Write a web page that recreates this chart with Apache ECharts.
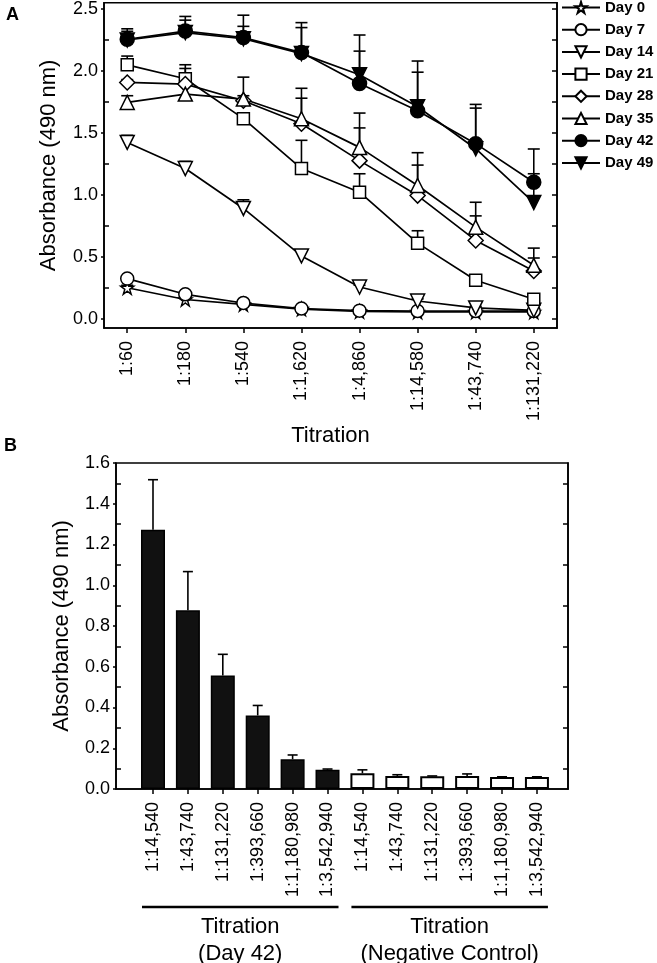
<!DOCTYPE html>
<html><head><meta charset="utf-8">
<script src="https://cdn.jsdelivr.net/npm/echarts@6/dist/echarts.min.js"></script>
<style>html,body{margin:0;padding:0;background:#fff}#c{width:657px;height:963px}</style>
</head><body><div id="c"></div>
<script>
// ---------- DATA ----------
const catsA = ['1:60','1:180','1:540','1:1,620','1:4,860','1:14,580','1:43,740','1:131,220'];
const dayNames = ['Day 0','Day 7','Day 14','Day 21','Day 28','Day 35','Day 42','Day 49'];
const day0  = [0.250,0.155,0.115,0.078,0.058,0.055,0.055,0.055];
const day7  = [0.324,0.197,0.127,0.082,0.065,0.062,0.062,0.062];
const day14 = [1.423,1.212,0.890,0.507,0.256,0.143,0.087,0.068];
const day21 = [2.049,1.937,1.615,1.212,1.021,0.610,0.310,0.157];
const day28 = [1.907,1.894,1.759,1.574,1.276,0.994,0.632,0.385];
const day35 = [1.746,1.813,1.773,1.614,1.383,1.075,0.739,0.431];
const day42 = [2.256,2.322,2.269,2.148,1.898,1.679,1.413,1.101];
const day49 = [2.250,2.310,2.260,2.140,1.969,1.711,1.372,0.938];
// top of the (upper) error bars
const day0Top  = [0.270,0.170,0.125,0.085,0.062,0.058,0.058,0.058];
const day7Top  = [0.340,0.205,0.135,0.088,0.068,0.065,0.065,0.065];
const day14Top = [1.48,1.27,0.96,0.55,0.27,0.16,0.10,0.08];
const day21Top = [2.12,2.05,1.65,1.44,1.17,0.71,0.34,0.17];
const day28Top = [1.93,1.95,1.80,1.78,1.54,1.24,0.83,0.49];
const day35Top = [1.80,2.02,1.95,1.86,1.66,1.34,0.94,0.57];
const day42Top = [2.34,2.44,2.36,2.35,2.16,1.99,1.70,1.37];
const day49Top = [2.32,2.41,2.45,2.39,2.29,2.08,1.73,1.17];
const ticksA = [0,0.5,1.0,1.5,2.0,2.5];

const catsB = ['1:14,540','1:43,740','1:131,220','1:393,660','1:1,180,980','1:3,542,940',
               '1:14,540','1:43,740','1:131,220','1:393,660','1:1,180,980','1:3,542,940'];
const barsDay42 = [1.272,0.877,0.557,0.361,0.146,0.094];
const barsNeg   = [0.077,0.064,0.062,0.064,0.059,0.059];
const errDay42  = [1.518,1.067,0.661,0.410,0.167,0.098];
const errNeg    = [0.094,0.070,0.064,0.074,0.060,0.060];
const ticksB = [0,0.2,0.4,0.6,0.8,1.0,1.2,1.4,1.6];
const groupLabels = ['Titration\n(Day 42)','Titration\n(Negative Control)'];

// ---------- FONTS ----------
function hasFont(f){
  const c=document.createElement('canvas').getContext('2d');
  const s='Absorbance 1234567890';
  c.font='40px monospace'; const a=c.measureText(s).width;
  c.font="40px '"+f+"', monospace"; const b=c.measureText(s).width;
  return a!==b;
}
const NARROW = hasFont('Liberation Sans Narrow');
const FF = NARROW ? "'Liberation Sans Narrow', 'Liberation Sans', Arial, sans-serif" : "'Liberation Sans', Arial, sans-serif";
const TICK = NARROW ? 21 : 18;
const TITLE = NARROW ? 26 : 22;

// ---------- SERIES ----------
const starPath = 'path://M50,0 L61,35 L98,35 L68,57 L79,91 L50,70 L21,91 L32,57 L2,35 L39,35 Z';
const means = [day0,day7,day14,day21,day28,day35,day42,day49];
const tops  = [day0Top,day7Top,day14Top,day21Top,day28Top,day35Top,day42Top,day49Top];
const symbols = [
  {symbol:starPath,size:13,rot:0,fill:'#fff'},
  {symbol:'circle',size:13,rot:0,fill:'#fff'},
  {symbol:'triangle',size:14,rot:180,fill:'#fff'},
  {symbol:'rect',size:12,rot:0,fill:'#fff'},
  {symbol:'diamond',size:15,rot:0,fill:'#fff'},
  {symbol:'triangle',size:14,rot:0,fill:'#fff'},
  {symbol:'circle',size:14,rot:0,fill:'#000'},
  {symbol:'triangle',size:14,rot:180,fill:'#000'}
];

function errRender(capHalf){
  return function(params, api){
    const x=api.value(0), m=api.value(1), t=api.value(2);
    const p0=api.coord([x,m]), p1=api.coord([x,t]);
    const st={stroke:'#000',lineWidth:1.6};
    return {type:'group',children:[
      {type:'line',shape:{x1:p0[0],y1:p0[1],x2:p1[0],y2:p1[1]},style:st},
      {type:'line',shape:{x1:p1[0]-capHalf,y1:p1[1],x2:p1[0]+capHalf,y2:p1[1]},style:st}
    ]};
  };
}

const series = [];
means.forEach((arr,k)=>{
  series.push({
    type:'custom', xAxisIndex:0, yAxisIndex:0, z:1, silent:true,
    renderItem: errRender(6),
    data: arr.map((v,i)=>[i,v,tops[k][i]])
  });
});
means.forEach((arr,k)=>{
  const s=symbols[k];
  series.push({
    name: dayNames[k], type:'line', xAxisIndex:0, yAxisIndex:0, z:3,
    data: arr.map((v,i)=>[i,v]),
    symbol:s.symbol, symbolSize:s.size, symbolRotate:s.rot,
    showAllSymbol:true,
    lineStyle:{color:'#000',width:1.7},
    itemStyle:{color:s.fill,borderColor:'#000',borderWidth:1.5,opacity:1},
    emphasis:{disabled:true}, animation:false
  });
});
// panel B bars
const barData = barsDay42.map((v,i)=>({value:[i,v],itemStyle:{color:'#111',borderColor:'#000',borderWidth:1.5}}))
  .concat(barsNeg.map((v,i)=>({value:[i+barsDay42.length,v],itemStyle:{color:'#fff',borderColor:'#000',borderWidth:2}})));
series.push({type:'bar', xAxisIndex:1, yAxisIndex:3, data:barData, barWidth:24, z:2, animation:false});
const errB = errDay42.map((t,i)=>[i,barsDay42[i],t]).concat(errNeg.map((t,i)=>[i+barsDay42.length,barsNeg[i],t]));
series.push({type:'custom', xAxisIndex:1, yAxisIndex:3, z:3, silent:true, renderItem:errRender(5), data:errB});

// ---------- AXES ----------
const axLine = {show:true,onZero:false,lineStyle:{color:'#000',width:1.6}};
const noLine = {show:false,onZero:false};
const lbl = {color:'#000',fontFamily:FF,fontSize:TICK};
function range(a,b,s){const r=[];for(let v=a;v<=b+1e-9;v+=s)r.push(Math.round(v*1000)/1000);return r;}

const option = {
  animation:false,
  textStyle:{fontFamily:FF},
  grid:[
    {left:104,top:2,width:453,height:326,show:true,borderColor:'#000',borderWidth:1.6,backgroundColor:'transparent'},
    {left:116,top:463,width:452,height:326,show:true,borderColor:'#000',borderWidth:1.6,backgroundColor:'transparent'}
  ],
  xAxis:[
    {type:'value',gridIndex:0,min:-0.4,max:7.4,axisLine:axLine,splitLine:{show:false},
     axisTick:{show:true,customValues:catsA.map((c,i)=>i),length:5,inside:false,lineStyle:{color:'#000',width:1.5}},
     axisLabel:Object.assign({},lbl,{customValues:catsA.map((c,i)=>i),rotate:90,margin:13,formatter:v=>catsA[Math.round(v)]}),
     name:'Titration',nameLocation:'middle',nameGap:94,nameTextStyle:{color:'#000',fontFamily:FF,fontSize:TITLE}},
    {type:'value',gridIndex:1,min:-1.06,max:11.89,axisLine:axLine,splitLine:{show:false},
     axisTick:{show:true,customValues:catsB.map((c,i)=>i),length:5,inside:false,lineStyle:{color:'#000',width:1.5}},
     axisLabel:Object.assign({},lbl,{customValues:catsB.map((c,i)=>i),rotate:90,margin:13,formatter:v=>catsB[Math.round(v)]})}
  ],
  yAxis:[
    {type:'value',gridIndex:0,position:'left',min:-0.075,max:2.55,axisLine:axLine,splitLine:{show:false},
     axisTick:{show:true,customValues:ticksA,length:3,lineStyle:{color:'#000',width:1.5}},
     axisLabel:Object.assign({},lbl,{customValues:ticksA,margin:6,formatter:v=>v.toFixed(1)}),
     name:'Absorbance (490 nm)',nameLocation:'middle',nameGap:44,nameTextStyle:{color:'#000',fontFamily:FF,fontSize:TITLE}},
    {type:'value',gridIndex:0,position:'left',min:-0.075,max:2.55,axisLine:noLine,splitLine:{show:false},axisLabel:{show:false},
     axisTick:{show:true,inside:true,customValues:range(0.25,2.25,0.5),length:5,lineStyle:{color:'#000',width:1.5}}},
    {type:'value',gridIndex:0,position:'right',min:-0.075,max:2.55,axisLine:axLine,splitLine:{show:false},axisLabel:{show:false},
     axisTick:{show:true,inside:true,customValues:range(0,2.5,0.25),length:5,lineStyle:{color:'#000',width:1.5}}},
    {type:'value',gridIndex:1,position:'left',min:0,max:1.6,axisLine:axLine,splitLine:{show:false},
     axisTick:{show:true,customValues:ticksB,length:3,lineStyle:{color:'#000',width:1.5}},
     axisLabel:Object.assign({},lbl,{customValues:ticksB,margin:6,formatter:v=>v.toFixed(1)}),
     name:'Absorbance (490 nm)',nameLocation:'middle',nameGap:43,nameTextStyle:{color:'#000',fontFamily:FF,fontSize:TITLE}},
    {type:'value',gridIndex:1,position:'left',min:0,max:1.6,axisLine:noLine,splitLine:{show:false},axisLabel:{show:false},
     axisTick:{show:true,inside:true,customValues:range(0.1,1.5,0.2),length:5,lineStyle:{color:'#000',width:1.5}}},
    {type:'value',gridIndex:1,position:'right',min:0,max:1.6,axisLine:axLine,splitLine:{show:false},axisLabel:{show:false},
     axisTick:{show:true,inside:true,customValues:range(0.1,1.5,0.2),length:5,lineStyle:{color:'#000',width:1.5}}}
  ],
  legend:{
    data:dayNames, orient:'vertical', left:561, top:0, padding:0,
    itemWidth:38, itemHeight:14, itemGap:7.2, selectedMode:false,
    textStyle:{color:'#000',fontFamily:"'Liberation Sans', Arial, sans-serif",fontWeight:'bold',fontSize:15,lineHeight:14}
  },
  series:series
};

const chart = echarts.init(document.getElementById('c'), null, {renderer:'canvas'});
chart.setOption(option);

// panel letters and group brackets in B (positions derived from the axis)
const y0 = chart.convertToPixel({yAxisIndex:3}, 0);
const graphics = [
  {type:'text',left:6,top:6,style:{text:'A',font:"bold 18px 'Liberation Sans', Arial",fill:'#000'}},
  {type:'text',left:4,top:437,style:{text:'B',font:"bold 18px 'Liberation Sans', Arial",fill:'#000'}}
];
const groups = [[0,barsDay42.length-1],[barsDay42.length,barsDay42.length+barsNeg.length-1]];
groups.forEach((g,k)=>{
  const xa = chart.convertToPixel({xAxisIndex:1}, g[0]) - 11;
  const xb = chart.convertToPixel({xAxisIndex:1}, g[1]) + 11;
  const yl = y0 + 118;
  graphics.push({type:'line',shape:{x1:xa,y1:yl,x2:xb,y2:yl},style:{stroke:'#000',lineWidth:2.5}});
  graphics.push({type:'text',x:(xa+xb)/2,y:yl+6,style:{text:groupLabels[k],fill:'#000',font:TITLE+'px '+FF,textAlign:'center',textVerticalAlign:'top',lineHeight:27}});
});
chart.setOption({graphic:graphics});
</script>
</body></html>
